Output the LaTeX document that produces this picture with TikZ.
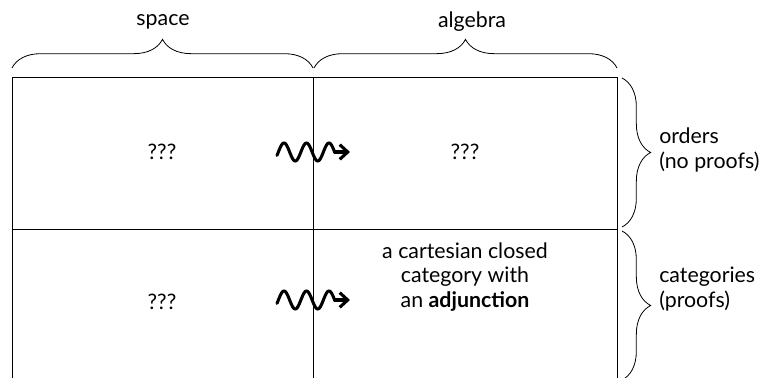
\documentclass[tikz,border=0pt]{standalone}
\usepackage{fontspec}
\setmainfont{Lato}
\usetikzlibrary{decorations.pathreplacing,arrows.meta}
\begin{document}
\begin{tikzpicture}[x=0.75pt,y=-0.75pt,
  lbl/.style={font=\fontsize{16}{18.3}\selectfont, inner sep=0pt},
  grid/.style={line width=0.6pt},
  bracestyle/.style={line width=0.6pt, decorate, decoration={brace, amplitude=21.5pt}},
  wave/.style={line width=2.3pt, line cap=round, line join=round},
  squig/.style={wave, -{Straight Barb[length=6pt,width=11pt]}}
]
\useasboundingbox (0,0) rectangle (771,378);
\clip (0,0) rectangle (771,378);
% grid corners
\coordinate (tl) at (12,77);
\coordinate (tm) at (313,77);
\coordinate (tr) at (617,77);
\coordinate (ml) at (12,229);
\coordinate (mr) at (617,229);
\coordinate (bl) at (12,381);
\coordinate (bm) at (313,381);
\coordinate (br) at (617,381);
\draw[grid] (tl) -- (tr) -- (br) -- (bl) -- cycle;
\draw[grid] (ml) -- (mr);
\draw[grid] (tm) -- (bm);
% top braces
\coordinate (b1s) at (12,68);
\coordinate (b1e) at (313,68);
\coordinate (b2s) at (314,68);
\coordinate (b2e) at (617,68);
\draw[bracestyle] (b1s) -- (b1e);
\draw[bracestyle] (b2s) -- (b2e);
\node[lbl] (space) at (163,22) {space};
\node[lbl] (algebra) at (472,22) {algebra};
% right braces
\coordinate (r1s) at (622,78);
\coordinate (r1e) at (622,227);
\coordinate (r2s) at (622,231);
\coordinate (r2e) at (622,380);
\draw[bracestyle] (r1s) -- (r1e);
\draw[bracestyle] (r2s) -- (r2e);
\node[lbl, anchor=west, align=left] (orders) at (659,150) {orders\\(no proofs)};
\node[lbl, anchor=west, align=left] (cats) at (659,289) {categories\\(proofs)};
% cell texts
\node[lbl] (q1) at (162,152) {???};
\node[lbl] (q2) at (465,152) {???};
\node[lbl] (q3) at (162,302) {???};
\node[lbl, align=center] (ccc) at (465,277) {a cartesian closed\\category with\\an \textbf{adjunction}};
% squiggly arrows
\coordinate (a1s) at (334.6,152);
\coordinate (a1e) at (350,152);
\coordinate (a2s) at (334.6,300);
\coordinate (a2e) at (350,300);
\draw[wave] plot[variable=\t, domain=-112:810, samples=90] ({284+\t/16}, {152-9*cos(\t)});
\draw[squig] (a1s) -- (a1e);
\draw[wave] plot[variable=\t, domain=-112:810, samples=90] ({284+\t/16}, {300-9*cos(\t)});
\draw[squig] (a2s) -- (a2e);
\end{tikzpicture}
\end{document}
